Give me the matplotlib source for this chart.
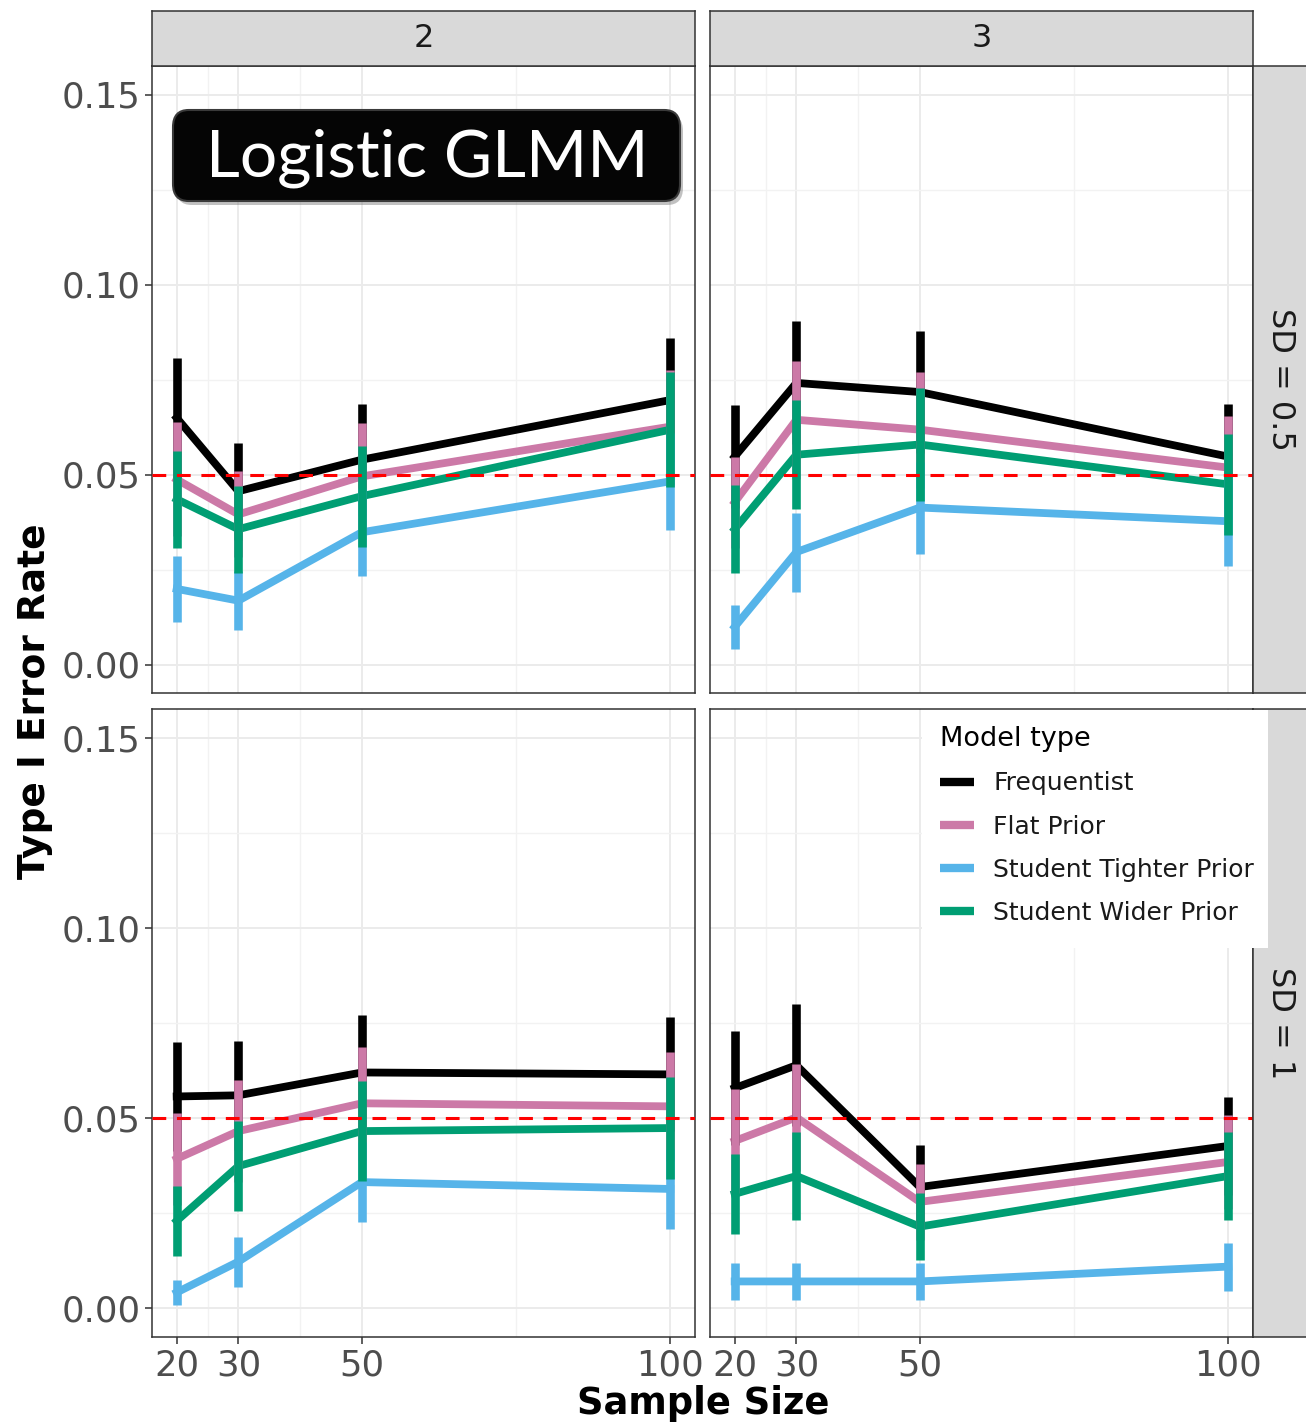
import matplotlib
matplotlib.use("Agg")
import matplotlib.pyplot as plt
from matplotlib.lines import Line2D
from matplotlib.patches import FancyBboxPatch, Rectangle

# ---- data --------------------------------------------------------------
SAMPLE_SIZES = [20, 30, 50, 100]
MODELS = ["Frequentist", "Flat Prior", "Student Tighter Prior", "Student Wider Prior"]
COLORS = ["#000000", "#CC79A7", "#56B4E9", "#009E73"]
COL_LABELS = ["2", "3"]
ROW_LABELS = ["SD = 0.5", "SD = 1"]
Y_TICKS = [0.00, 0.05, 0.10, 0.15]
Y_TICK_LABELS = ["0.00", "0.05", "0.10", "0.15"]
NOMINAL_ALPHA = 0.05

# rows follow MODELS order; columns follow SAMPLE_SIZES
RATE_SD05_K2 = [
    [0.0649, 0.0456, 0.0539, 0.0696],
    [0.0487, 0.0395, 0.0495, 0.0626],
    [0.0199, 0.0168, 0.0348, 0.0482],
    [0.0435, 0.0356, 0.0443, 0.0618],
]
HALF_SD05_K2 = [
    [0.0157, 0.0128, 0.0147, 0.0162],
    [0.0150, 0.0113, 0.0141, 0.0150],
    [0.0087, 0.0078, 0.0116, 0.0128],
    [0.0128, 0.0115, 0.0133, 0.0152],
]
RATE_SD05_K3 = [
    [0.0547, 0.0741, 0.0717, 0.0547],
    [0.0427, 0.0644, 0.0618, 0.0518],
    [0.0099, 0.0296, 0.0413, 0.0377],
    [0.0356, 0.0552, 0.0579, 0.0474],
]
HALF_SD05_K3 = [
    [0.0136, 0.0162, 0.0160, 0.0139],
    [0.0120, 0.0156, 0.0153, 0.0135],
    [0.0058, 0.0104, 0.0121, 0.0118],
    [0.0116, 0.0144, 0.0148, 0.0132],
]
RATE_SD1_K2 = [
    [0.0557, 0.0560, 0.0620, 0.0615],
    [0.0393, 0.0466, 0.0539, 0.0531],
    [0.0042, 0.0123, 0.0332, 0.0314],
    [0.0230, 0.0374, 0.0466, 0.0474],
]
HALF_SD1_K2 = [
    [0.0142, 0.0144, 0.0150, 0.0150],
    [0.0120, 0.0134, 0.0148, 0.0144],
    [0.0034, 0.0066, 0.0106, 0.0104],
    [0.0091, 0.0119, 0.0132, 0.0133],
]
RATE_SD1_K3 = [
    [0.0579, 0.0639, 0.0319, 0.0427],
    [0.0440, 0.0502, 0.0280, 0.0385],
    [0.0071, 0.0071, 0.0071, 0.0110],
    [0.0301, 0.0348, 0.0215, 0.0348],
]
HALF_SD1_K3 = [
    [0.0149, 0.0160, 0.0110, 0.0128],
    [0.0137, 0.0140, 0.0100, 0.0124],
    [0.0048, 0.0048, 0.0048, 0.0063],
    [0.0106, 0.0115, 0.0088, 0.0116],
]

PANELS = [
    [(RATE_SD05_K2, HALF_SD05_K2), (RATE_SD05_K3, HALF_SD05_K3)],
    [(RATE_SD1_K2, HALF_SD1_K2), (RATE_SD1_K3, HALF_SD1_K3)],
]

# ---- layout (pixel boxes in a 1306x1424 canvas) ------------------------
W, H = 1306, 1424


def box(x0, y0, x1, y1):
    return [x0 / W, 1 - y1 / H, (x1 - x0) / W, (y1 - y0) / H]


COL_X = [(152, 695), (710, 1253)]
ROW_Y = [(66, 693), (709, 1337)]
BORDER = "#333333"

fig = plt.figure(figsize=(W / 100, H / 100), dpi=100)

for r, (y0, y1) in enumerate(ROW_Y):
    for c, (x0, x1) in enumerate(COL_X):
        ax = fig.add_axes(box(x0, y0, x1, y1))
        rates, halves = PANELS[r][c]
        for rate, color in zip(rates, COLORS):
            ax.plot(SAMPLE_SIZES, rate, color=color, lw=5.6, zorder=2,
                    solid_joinstyle="miter")
        for rate, half, color in zip(rates, halves, COLORS):
            ax.errorbar(SAMPLE_SIZES, rate, yerr=half, fmt="none", ecolor=color,
                        elinewidth=6.2, capsize=0, zorder=3)
        ax.axhline(NOMINAL_ALPHA, color="#FF0000", lw=2.2, ls=(0, (4.5, 3.5)), zorder=4)

        ax.set_xlim(16, 104)
        ax.set_ylim(-0.0075, 0.1575)
        ax.set_xticks(SAMPLE_SIZES)
        ax.set_xticklabels([str(s) for s in SAMPLE_SIZES])
        ax.set_xticks([25, 40, 75], minor=True)
        ax.set_yticks(Y_TICKS)
        ax.set_yticklabels(Y_TICK_LABELS)
        ax.set_yticks([0.025, 0.075, 0.125], minor=True)
        ax.grid(which="major", color="#EBEBEB", lw=1.4, zorder=0)
        ax.grid(which="minor", color="#F2F2F2", lw=1.0, zorder=0)
        ax.set_axisbelow(True)
        ax.tick_params(which="minor", length=0)
        ax.tick_params(which="major", length=5, width=1.1, color=BORDER,
                       labelsize=25.5, labelcolor="#4D4D4D", pad=3)
        if r == 0:
            ax.tick_params(axis="x", which="major", length=0, labelbottom=False)
        if c == 1:
            ax.tick_params(axis="y", which="major", length=0, labelleft=False)
        for sp in ax.spines.values():
            sp.set_color(BORDER)
            sp.set_linewidth(1.1)

# strips
for c, (x0, x1) in enumerate(COL_X):
    sax = fig.add_axes(box(x0, 11, x1, 66))
    sax.set_facecolor("#D9D9D9")
    sax.set_xticks([])
    sax.set_yticks([])
    for sp in sax.spines.values():
        sp.set_color(BORDER)
        sp.set_linewidth(1.1)
    sax.text(0.5, 0.5, COL_LABELS[c], ha="center", va="center",
             fontsize=23, color="#1A1A1A", transform=sax.transAxes)

for r, (y0, y1) in enumerate(ROW_Y):
    sax = fig.add_axes(box(1253, y0, 1312, y1))
    sax.set_facecolor("#D9D9D9")
    sax.set_xticks([])
    sax.set_yticks([])
    for sp in sax.spines.values():
        sp.set_color(BORDER)
        sp.set_linewidth(1.1)
    sax.text(27 / 59, 0.5, ROW_LABELS[r], ha="center", va="center", rotation=-90,
             fontsize=23, color="#1A1A1A", transform=sax.transAxes)

# axis titles
fig.text(35 / W, 1 - 701 / H, "Type I Error Rate", rotation=90, ha="center",
         va="center", fontsize=27, fontweight="bold")
fig.text(703 / W, 1 - 1404 / H, "Sample Size", ha="center", va="center",
         fontsize=26.6, fontweight="bold")

# legend on a white patch
fig.add_artist(Rectangle((922 / W, 1 - 948 / H), 346 / W, 238 / H,
                         transform=fig.transFigure, facecolor="white",
                         edgecolor="none", zorder=4))
handles = [Line2D([], [], color=col, lw=6, solid_capstyle="butt") for col in COLORS]
leg = fig.legend(handles, MODELS, title="Model type", loc="upper left",
                 bbox_to_anchor=(940 / W, 1 - 726 / H), frameon=False,
                 fontsize=18, title_fontsize=19.5, handlelength=1.36,
                 handletextpad=0.76, labelspacing=0.77, borderpad=0,
                 borderaxespad=0, alignment="left")
leg.set_zorder(5)
for t in leg.get_texts():
    t.set_color("#1A1A1A")

# "Logistic GLMM" banner
fig.add_artist(FancyBboxPatch((176 / W, 1 - 205 / H), 507 / W, 91 / H,
                              boxstyle="round,pad=0,rounding_size=0.012",
                              transform=fig.transFigure, facecolor="#777777",
                              edgecolor="none", alpha=0.45, zorder=6))
fig.add_artist(FancyBboxPatch((173 / W, 1 - 201 / H), 507 / W, 91 / H,
                              boxstyle="round,pad=0,rounding_size=0.012",
                              transform=fig.transFigure, facecolor="#050505",
                              edgecolor="#3A3A3A", lw=1.5, zorder=7))
fig.text(427 / W, 1 - 158 / H, "Logistic GLMM", ha="center", va="center",
         fontsize=47.5, color="white", family="Lato", zorder=8)

fig.savefig("out.png", dpi=100)
